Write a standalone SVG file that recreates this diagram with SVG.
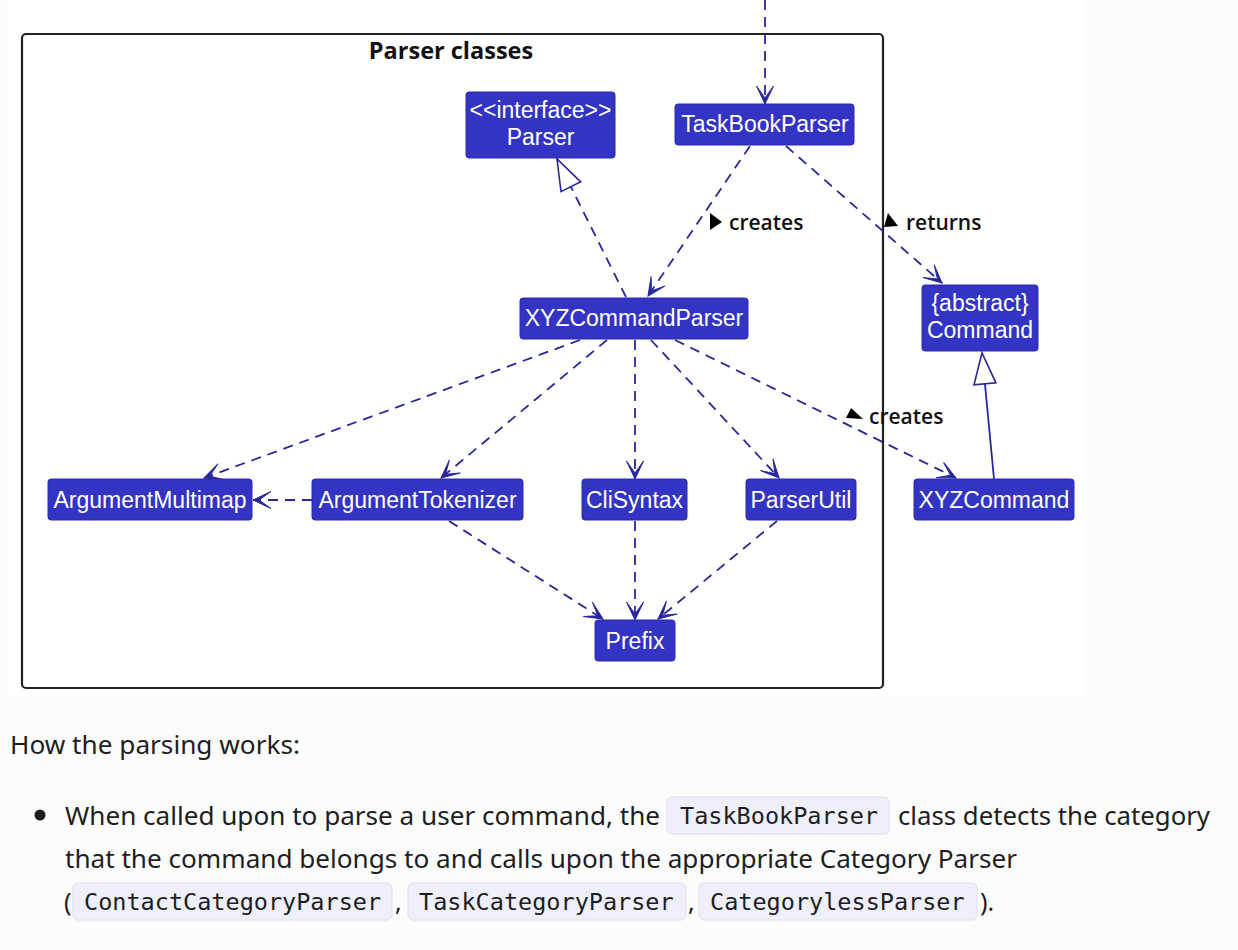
<svg xmlns="http://www.w3.org/2000/svg" width="1238" height="950" viewBox="0 0 1238 950">
  <defs>
    <style>
      .node rect { fill: #3333c4; stroke: #2a2ab0; stroke-width: 1; }
      .node text { font-family: "Liberation Sans", Arial, sans-serif; font-size: 23px; fill: #ffffff; text-anchor: middle; }
      .edge { fill: none; stroke: #28289a; stroke-width: 1.8; }
      .dash { stroke-dasharray: 10 7; }
      .lbl { font-family: "Open Sans", "Noto Sans", sans-serif; font-size: 21px; font-weight: 600; fill: #111111; }
      .tri { fill: #000000; }
      .body { font-family: "Noto Sans", "Open Sans", sans-serif; font-size: 25px; fill: #1e1e1e; }
      .code { font-family: "DejaVu Sans Mono", "Liberation Mono", monospace; font-size: 23.5px; fill: #1e1e1e; }
      .chip { fill: #efeffb; stroke: #e0e0ee; stroke-width: 1; }
    </style>
    <marker id="arrow" markerUnits="userSpaceOnUse" viewBox="-20 -11 22 22" markerWidth="22" markerHeight="22" refX="0" refY="0" orient="auto">
      <path d="M0,0 L-18,-8.5 L-6,0 L-18,8.5 Z" fill="#28289a" stroke="#28289a" stroke-width="1" stroke-linejoin="miter"/>
    </marker>
    <marker id="hollow" markerUnits="userSpaceOnUse" viewBox="-34 -14 36 28" markerWidth="36" markerHeight="28" refX="0" refY="0" orient="auto">
      <path d="M0,0 L-31,-11 L-31,11 Z" fill="#ffffff" stroke="#28289a" stroke-width="1.6"/>
    </marker>
  </defs>

  <!-- page background -->
  <rect x="0" y="0" width="1238" height="950" fill="#fcfcfc"/>
  <rect x="7" y="0" width="1077" height="696" fill="#ffffff"/>

  <!-- package frame -->
  <g id="package-parser-classes">
    <rect x="22" y="34" width="861" height="654" rx="4" ry="4" fill="none" stroke="#222222" stroke-width="2.2"/>
    <text x="451" y="59" text-anchor="middle" font-family="Open Sans, Noto Sans, sans-serif" font-weight="bold" font-size="23.5" fill="#111111">Parser classes</text>
  </g>

  <!-- connectors -->
  <g id="connectors">
    <path class="edge dash" d="M765,0 L765,104" marker-end="url(#arrow)"/>
    <path class="edge dash" d="M626,297 L557,159" marker-end="url(#hollow)"/>
    <path class="edge dash" d="M750,146 L648,296" marker-end="url(#arrow)"/>
    <path class="edge dash" d="M786,146 L942,283" marker-end="url(#arrow)"/>
    <path class="edge dash" d="M580,340 L204,478" marker-end="url(#arrow)"/>
    <path class="edge dash" d="M607,340 L441,478" marker-end="url(#arrow)"/>
    <path class="edge dash" d="M635,340 L635,479" marker-end="url(#arrow)"/>
    <path class="edge dash" d="M651,340 L779,478" marker-end="url(#arrow)"/>
    <path class="edge dash" d="M675,340 L956,478" marker-end="url(#arrow)"/>
    <path class="edge dash" d="M312,500 L253,500" marker-end="url(#arrow)"/>
    <path class="edge dash" d="M449,521 L603,619" marker-end="url(#arrow)"/>
    <path class="edge dash" d="M635,521 L635,620" marker-end="url(#arrow)"/>
    <path class="edge dash" d="M777,521 L658,619" marker-end="url(#arrow)"/>
    <path class="edge" d="M994,479 L982,353" marker-end="url(#hollow)"/>

    <polygon class="tri" points="710,213 722,222 710,230"/>
    <text class="lbl" x="729" y="230">creates</text>
    <polygon class="tri" points="888,213 884,227 898,226"/>
    <text class="lbl" x="906" y="230">returns</text>
    <polygon class="tri" points="851,408 846,418 863,419"/>
    <text class="lbl" x="869" y="424">creates</text>
  </g>

  <!-- nodes -->
  <g id="node-parser" class="node">
    <rect x="466" y="92" width="149" height="66" rx="3"/>
    <text x="540.5" y="118">&lt;&lt;interface&gt;&gt;</text>
    <text x="540.5" y="145">Parser</text>
  </g>
  <g id="node-taskbookparser" class="node">
    <rect x="675" y="104" width="179" height="41" rx="3"/>
    <text x="765" y="132">TaskBookParser</text>
  </g>
  <g id="node-xyzcommandparser" class="node">
    <rect x="520" y="298" width="228" height="41" rx="3"/>
    <text x="634" y="326">XYZCommandParser</text>
  </g>
  <g id="node-command" class="node">
    <rect x="922" y="285" width="116" height="66" rx="3"/>
    <text x="980" y="311">{abstract}</text>
    <text x="980" y="338">Command</text>
  </g>
  <g id="node-argumentmultimap" class="node">
    <rect x="48" y="479" width="204" height="41" rx="3"/>
    <text x="150" y="508">ArgumentMultimap</text>
  </g>
  <g id="node-argumenttokenizer" class="node">
    <rect x="312" y="479" width="211" height="41" rx="3"/>
    <text x="417.5" y="508">ArgumentTokenizer</text>
  </g>
  <g id="node-clisyntax" class="node">
    <rect x="582" y="479" width="105" height="41" rx="3"/>
    <text x="634.5" y="508">CliSyntax</text>
  </g>
  <g id="node-parserutil" class="node">
    <rect x="746" y="479" width="110" height="41" rx="3"/>
    <text x="801" y="508">ParserUtil</text>
  </g>
  <g id="node-xyzcommand" class="node">
    <rect x="914" y="479" width="160" height="41" rx="3"/>
    <text x="994" y="508">XYZCommand</text>
  </g>
  <g id="node-prefix" class="node">
    <rect x="595" y="620" width="80" height="41" rx="3"/>
    <text x="635" y="649">Prefix</text>
  </g>

  <!-- page text -->
  <g id="page-text">
    <text class="body" x="10" y="754" textLength="290" lengthAdjust="spacingAndGlyphs">How the parsing works:</text>
    <circle cx="40" cy="815" r="5.5" fill="#1e1e1e"/>
    <text class="body" x="65" y="825" textLength="595" lengthAdjust="spacingAndGlyphs">When called upon to parse a user command, the</text>
    <rect class="chip" x="667" y="797" width="222" height="37" rx="5"/>
    <text class="code" x="680" y="824">TaskBookParser</text>
    <text class="body" x="898" y="825" textLength="312" lengthAdjust="spacingAndGlyphs">class detects the category</text>
    <text class="body" x="65" y="868" textLength="952" lengthAdjust="spacingAndGlyphs">that the command belongs to and calls upon the appropriate Category Parser</text>
    <text class="body" x="64" y="911">(</text>
    <rect class="chip" x="73" y="883" width="319" height="37" rx="5"/>
    <text class="code" x="84" y="910">ContactCategoryParser</text>
    <text class="body" x="395" y="911">,</text>
    <rect class="chip" x="408" y="883" width="278" height="37" rx="5"/>
    <text class="code" x="419" y="910">TaskCategoryParser</text>
    <text class="body" x="688" y="911">,</text>
    <rect class="chip" x="699" y="883" width="278" height="37" rx="5"/>
    <text class="code" x="710" y="910">CategorylessParser</text>
    <text class="body" x="980" y="911">).</text>
  </g>
</svg>
